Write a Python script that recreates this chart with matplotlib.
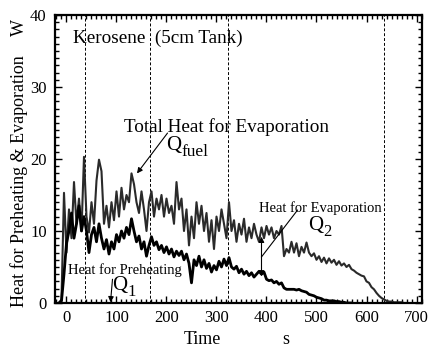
import matplotlib
matplotlib.use("Agg")
import matplotlib.pyplot as plt
from matplotlib.ticker import MultipleLocator

plt.rcParams['font.family'] = ['Liberation Serif', 'DejaVu Serif']

# ---- data ----
t_fuel = list(range(-15, 685, 5))
q_fuel = [0, 0.5, 15.3, 7, 13, 9, 16.8, 11, 14.5, 10,
          20.3, 12, 9.8, 14, 11, 17, 19.9, 18.3, 11, 13.5,
          10.5, 14, 11.5, 15.5, 12, 16, 13, 15, 14, 18,
          16.5, 14, 12.5, 15.5, 13, 10, 14, 15.5, 12, 14.5,
          13, 15, 12, 14.5, 12.5, 13.5, 11, 16.8, 13, 14.5,
          10, 13, 8, 12, 9, 14, 11, 13.5, 10, 12.5,
          8.5, 11.5, 7.5, 12, 10, 13, 11, 9, 14, 10,
          11.5, 8.5, 11, 9.5, 11.7, 8.5, 10.5, 9, 11, 9.5,
          8.5, 10.5, 9, 10.7, 9.5, 10.5, 9, 10, 9.5, 10.7,
          6.5, 7.5, 7, 8.5, 7, 8.3, 6.5, 7.8, 7, 8.4,
          7, 6.5, 6.9, 6, 6.5, 5.7, 6.3, 5.5, 6.2, 5.6,
          6, 5.3, 5.8, 5.2, 5.5, 5, 5.3, 4.7, 4.5, 4.2,
          4, 3.8, 3.7, 3, 2.8, 2.2, 1.9, 1.4, 1, 0.7,
          0.5, 0.3, 0.2, 0.2, 0.1, 0.1, 0.1, 0.1, 0, 0]

t_pre = list(range(-15, 575, 5))
q_pre = [0, 0.3, 4, 8.3, 10, 12.5, 9, 11, 13.5, 10,
         12, 10, 7, 9.5, 10.5, 8.5, 11, 9, 7.5, 8.8,
         6.8, 8.5, 7.5, 9.5, 8.5, 10, 9, 10.5, 9.5, 11.7,
         10, 8.5, 9.3, 7.5, 8.5, 6.5, 8, 9.2, 8, 8.5,
         7.4, 8, 7, 7.8, 6.8, 7.5, 6.4, 7.2, 6.6, 7.2,
         6, 6.8, 5.5, 2.8, 6, 5.2, 6.5, 5, 6, 4.8,
         5.5, 4.3, 5.2, 4.6, 5.8, 5, 6.1, 5.2, 6.3, 5,
         4.7, 5.1, 4.2, 4.7, 4, 4.4, 3.8, 4.2, 3.6, 4,
         4.4, 4, 4.3, 3.3, 3.1, 3.2, 2.8, 3, 2.6, 2.8,
         2.1, 1.9, 1.9, 1.9, 1.9, 1.8, 1.9, 1.7, 1.6, 1.5,
         1.2, 1.1, 1.0, 0.8, 0.7, 0.6, 0.4, 0.4, 0.3, 0.3,
         0.3, 0.2, 0.2, 0.1, 0.1, 0, 0, 0]

dashed_t = [37, 168, 323, 635]
x_ticks = [0, 100, 200, 300, 400, 500, 600, 700]
y_ticks = [0, 10, 20, 30, 40]

fig = plt.figure(figsize=(4.32, 3.52), dpi=100)
ax = fig.add_axes([0.1273, 0.1392, 0.9757 - 0.1273, 0.9574 - 0.1392])

for xv in dashed_t:
    ax.axvline(xv, color='black', lw=0.7, ls=(0, (3, 2)))

ax.plot(t_fuel, q_fuel, color='#2a2a2a', lw=1.5)
ax.plot(t_pre, q_pre, color='black', lw=2.0)

ax.set_xlim(-23, 710)
ax.set_ylim(0, 40)
ax.set_xticks(x_ticks)
ax.set_yticks(y_ticks)
ax.xaxis.set_minor_locator(MultipleLocator(10))
ax.yaxis.set_minor_locator(MultipleLocator(1))
ax.tick_params(which='both', direction='in', top=True, right=True, labelsize=12, width=1)
ax.tick_params(which='major', length=5)
ax.tick_params(axis='x', which='major', pad=5)
ax.tick_params(axis='y', which='major', pad=6)
ax.tick_params(which='minor', length=3)
for s in ax.spines.values():
    s.set_linewidth(1.6)

# axis labels
fig.text(19 / 432, 1 - 181 / 352, 'Heat for Preheating & Evaporation', rotation=90,
         ha='center', va='center', fontsize=13)
fig.text(19 / 432, 1 - 27 / 352, 'W', rotation=90, ha='center', va='center', fontsize=13)
fig.text(202 / 432, 1 - 340 / 352, 'Time', ha='center', va='center', fontsize=13)
fig.text(286 / 432, 1 - 340 / 352, 's', ha='center', va='center', fontsize=13)

# annotations
ax.text(14, 36.8, 'Kerosene  (5cm Tank)', fontsize=13.8, va='center', ha='left')
ax.text(115, 24.4, 'Total Heat for Evaporation', fontsize=13.8, va='center', ha='left')
ax.text(215, 21.9, 'Q', fontsize=15, va='center', ha='center')
ax.text(230, 21.0, 'fuel', fontsize=12.5, va='center', ha='left')
ax.annotate('', xy=(141, 18.0), xytext=(202, 23.6),
            arrowprops=dict(arrowstyle='-|>', color='black', lw=0.8,
                            mutation_scale=8, shrinkA=0, shrinkB=0))

ax.text(385, 13.2, 'Heat for Evaporation', fontsize=10.5, va='center', ha='left')
ax.text(499, 10.8, 'Q', fontsize=15, va='center', ha='center')
ax.text(514, 9.9, '2', fontsize=12, va='center', ha='left')
ax.plot([462, 390], [12.9, 6.4], color='black', lw=0.8)
ax.annotate('', xy=(390, 9.2), xytext=(390, 3.7),
            arrowprops=dict(arrowstyle='<|-|>', color='black', lw=0.8,
                            mutation_scale=8, shrinkA=0, shrinkB=0))

ax.text(3, 4.6, 'Heat for Preheating', fontsize=10.5, va='center', ha='left')
ax.text(107, 2.4, 'Q', fontsize=15, va='center', ha='center')
ax.text(122, 1.5, '1', fontsize=12, va='center', ha='left')
ax.annotate('', xy=(88, 0.1), xytext=(92, 3.3),
            arrowprops=dict(arrowstyle='-|>', color='black', lw=0.8,
                            mutation_scale=8, shrinkA=0, shrinkB=0))

fig.savefig('out.png', dpi=100)
